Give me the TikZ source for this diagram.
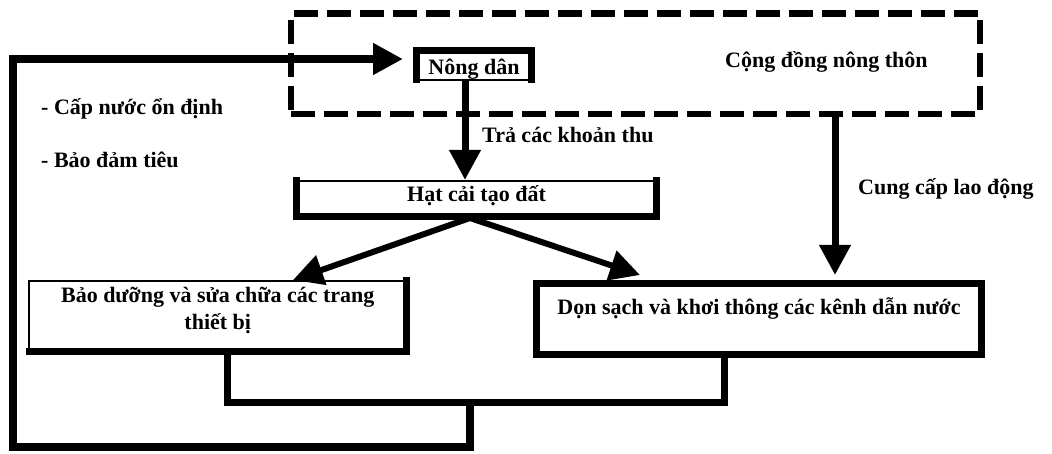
\documentclass[tikz,border=0pt]{standalone}
\usepackage{fontspec}
\setmainfont{Liberation Serif}
\usetikzlibrary{arrows.meta}

\begin{document}
\begin{tikzpicture}[x=1pt,y=1pt,yscale=-1,xscale=1,
    font=\fontsize{22}{27}\selectfont\bfseries,
    box/.style={draw, line width=1.5pt, fill=white, inner sep=0pt, outer sep=0pt},
    heavy box/.style={box, line width=7pt},
    edge/.style={line width=7pt, line cap=rect},
    thick line/.style={line width=7pt},
    big arrow/.style={line width=7pt, -{Triangle[length=30pt,width=30pt]}},
    plain text/.style={anchor=base west, inner sep=0pt}]
        %uncomment if require: \path (0,454); %set diagram left start at 0, and has height of 454
        \useasboundingbox (0,0) rectangle (1052,454);

        %Shape: Rectangle (dashed)
        \node [draw, line width=6.5pt, dash pattern={on 24pt off 9pt}, minimum width=689, minimum height=100.5, inner sep=0pt] (congdong) at (635.5,63.75) {};
        %Shape: Rectangle
        \node [box, minimum width=115, minimum height=29.5, text height=19.5pt, text depth=0pt] (nongdan) at (474,65.25) {Nông dân};
        \draw [edge] (nongdan.south west) -- (nongdan.north west) -- (nongdan.north east) -- (nongdan.south east);
        %Shape: Rectangle
        \node [box, minimum width=360, minimum height=35.5, text height=16.5pt, text depth=10pt] (hat) at (476.5,198.75) {Hạt cải tạo đất};
        \draw [edge] (hat.north west) -- (hat.south west) -- (hat.south east) -- (hat.north east);
        %Shape: Rectangle
        \node [box, minimum width=377.5, minimum height=70.5, align=center, text height=47.5pt, text depth=20pt] (baoduong) at (217.75,316.25) {Bảo dưỡng và sửa chữa các trang\\thiết bị};
        \draw [edge] (baoduong.north east) -- (baoduong.south east) -- (baoduong.south west);
        %Shape: Rectangle
        \node [heavy box, minimum width=445, minimum height=71, text height=10pt, text depth=18pt] (donsach) at (759,319) {Dọn sạch và khơi thông các kênh dẫn nước};

        \coordinate (pay) at (465,0);
        \coordinate (labour) at (835,0);
        \coordinate (fork) at (470,218);
        \coordinate (tobd) at (293,280);
        \coordinate (tods) at (640,275);
        \coordinate (ret) at (470,402);
        \coordinate (corner) at (13,447);
        \coordinate (entry) at (403,59);

        %Straight Lines
        \draw [big arrow, shorten >=1pt] (nongdan.south -| pay) -- (hat.north -| pay);
        %Straight Lines
        \draw [big arrow, shorten >=8.5pt] (congdong.south -| labour) -- (donsach.north -| labour);
        %Straight Lines
        \draw [big arrow, line width=6pt] (fork) -- (tobd);
        \draw [big arrow, line width=6pt] (fork) -- (tods);
        %Straight Lines
        \draw [thick line] ([xshift=10pt]baoduong.south) |- (ret) -| ([xshift=-35pt]donsach.south);
        \draw [big arrow, line width=8pt] (ret) |- (corner) |- (entry);

        % Text Node
        \node [plain text] (cdnt) at (725,68) {Cộng đồng nông thôn};
        % Text Node
        \node [plain text] (tra) at (482,143) {Trả các khoản thu};
        % Text Node
        \node [plain text] (cungcap) at (858,195) {Cung cấp lao động};
        % Text Node
        \node [plain text] (capnuoc) at (41,115) {- Cấp nước ổn định};
        % Text Node
        \node [plain text] (baodam) at (41,168) {- Bảo đảm tiêu};

\end{tikzpicture}
\end{document}
